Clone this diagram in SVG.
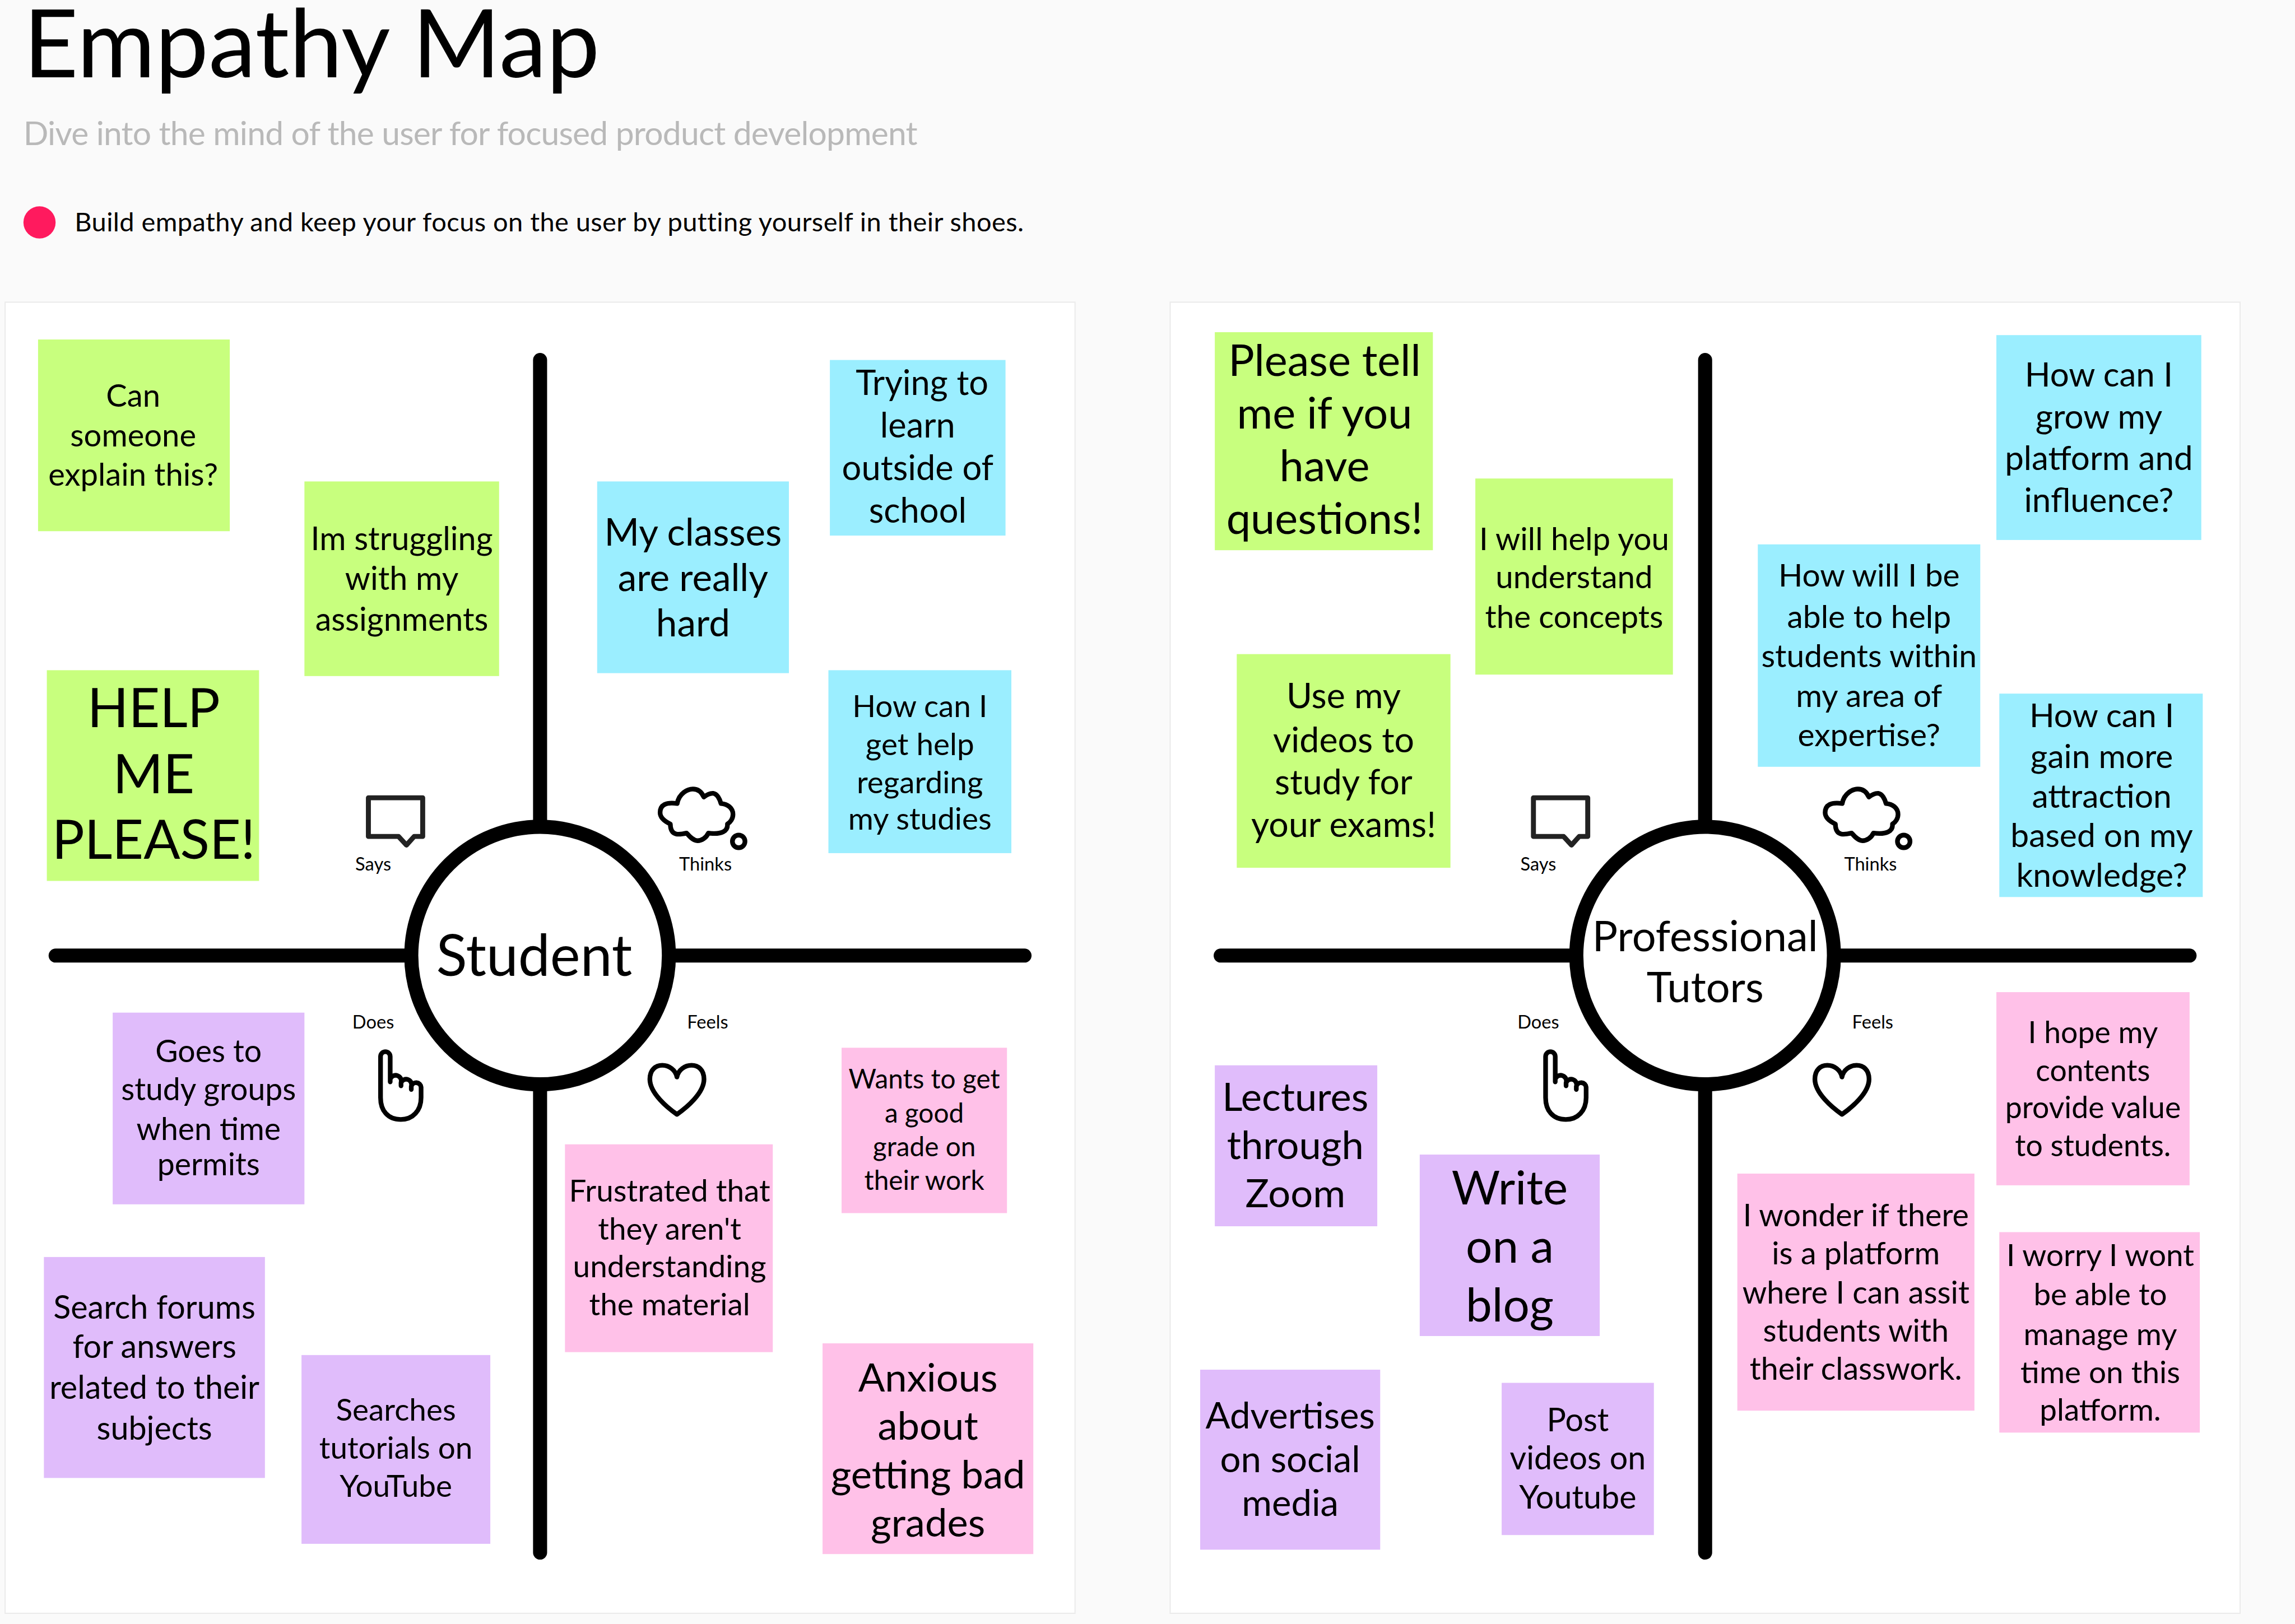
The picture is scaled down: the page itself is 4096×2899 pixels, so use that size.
<svg xmlns="http://www.w3.org/2000/svg" xmlns:xlink="http://www.w3.org/1999/xlink" width="4096" height="2899" viewBox="0 0 4096 2899">
<style>
text{font-family:"Lato","Noto Sans",sans-serif;fill:#000;text-anchor:middle}
.h{text-anchor:start}
.g{fill:#c8ff7e}.b{fill:#9beeff}.v{fill:#e0bcfb}.p{fill:#ffc1e8}
.panel{fill:#fff;stroke:#ebebeb;stroke-width:.8}
.ax{stroke:#000;stroke-width:9.6;stroke-linecap:round;fill:none}
.ring{fill:#fff;stroke:#000;stroke-width:9.6}
.ic{fill:none;stroke:#000;stroke-width:3.2;stroke-linejoin:round;stroke-linecap:round}
.lb{font-size:12.5px}
</style>
<defs>
<g id="icons">
<path class="ic" style="stroke:#222;stroke-width:3.4" d="M251.700 545.200H288.800V571.600H283L277.700 577.500L272.300 571.600H251.700Z"/>
<path class="ic" d="M462.700 549C464 542 470 539.200 473.400 539.200C477 539.200 479.500 541.500 480.900 544.700C483 543 485 542 487.300 542.100C490 542.500 491.800 546 492.600 549.100C497 549.500 500.800 552 500.800 556.500C500.800 559.500 499 562 497 563.100C497.500 568 493 570.500 484 569.300C482.500 572.500 479.500 574.500 476.600 574.500C473.500 574.500 471 571.500 469.100 569.300C464 570.500 458 571.500 458 563.100C453.500 561 451 558.500 451 555.300C451 550 455 548 462.700 549.100Z"/>
<circle class="ic" cx="504.700" cy="575" r="4.300"/>
<path class="ic" d="M266.600 739.300V722A3.300 3.300 0 0 0 260 722V750C260 759 265 765 273.800 765C282 765 287.700 759 287.700 750V743A3.400 3.400 0 0 0 281 742.500V744.500M281 742.500A3.500 3.500 0 0 0 274 740V742M274 740A3.700 3.700 0 0 0 266.600 737.500"/>
<path class="ic" d="M462.500 761.500C456 757 444 747 444 737.500C444 731 448 728 452.500 728C457 728 461.500 731 462.500 736C463.500 731 468 728 472.500 728C477 728 481 731 481 737.500C481 747 469 757 462.500 761.500Z"/>
<g><text class="lb" x="255" y="595">Says</text><text class="lb" x="482" y="595">Thinks</text><text class="lb" x="255" y="703">Does</text><text class="lb" x="483.500" y="703">Feels</text></g>
</g>
</defs>
<rect width="4096" height="2899" fill="#fafafa"/>
<g transform="scale(2.6122)">
<g id="header">
<text class="h" x="16" y="53" font-size="65">Empathy Map</text>
<text class="h" x="16" y="99" font-size="22.500" letter-spacing="-.3" style="fill:#b9b9b9">Dive into the mind of the user for focused product development</text>
<circle cx="27" cy="152" r="11" fill="#ff1a5e"/>
<text class="h" x="51" y="158" font-size="18" letter-spacing=".16">Build empathy and keep your focus on the user by putting yourself in their shoes.</text>
</g>
<rect class="panel" x="3.500" y="206.500" width="731" height="896"/>
<rect class="panel" x="799.500" y="206.500" width="731" height="896"/>
<g id="connectors">
<path class="ax" d="M369 246V1061M38 653H700"/>
<path class="ax" d="M1165 246V1061M834 653H1496"/>
</g>
<g id="student"><circle class="ring" cx="369" cy="653" r="88"/><text x="365" y="667" font-size="39">Student</text></g>
<g id="tutors"><circle class="ring" cx="1165" cy="653" r="88"/><text x="1165" y="650" font-size="29">Professional</text><text x="1165" y="685" font-size="29">Tutors</text></g>
<use href="#icons"/>
<use href="#icons" x="796"/>
<g id="s1"><rect class="g" x="26" y="232" width="131" height="131"/><text x="91" font-size="21.500"><tspan x="91" y="278">Can</tspan><tspan x="91" y="305">someone</tspan><tspan x="91" y="332">explain this?</tspan></text></g>
<g id="s2"><rect class="g" x="208" y="329" width="133" height="133"/><text font-size="22"><tspan x="274.500" y="376">Im struggling</tspan><tspan x="274.500" y="403">with my</tspan><tspan x="274.500" y="431">assignments</tspan></text></g>
<g id="s3"><rect class="g" x="32" y="458" width="145" height="144"/><text font-size="37"><tspan x="105" y="497">HELP</tspan><tspan x="105" y="542">ME</tspan><tspan x="105" y="587">PLEASE!</tspan></text></g>
<g id="s4"><rect class="b" x="408" y="329" width="131" height="131"/><text font-size="25.800"><tspan x="473.500" y="373">My classes</tspan><tspan x="473.500" y="404">are really</tspan><tspan x="473.500" y="435">hard</tspan></text></g>
<g id="s5"><rect class="b" x="567" y="246" width="120" height="120"/><text font-size="23.500"><tspan x="630" y="270">Trying to</tspan><tspan x="627" y="299">learn</tspan><tspan x="627" y="328">outside of</tspan><tspan x="627" y="357">school</tspan></text></g>
<g id="s6"><rect class="b" x="566" y="458" width="125" height="125"/><text font-size="21"><tspan x="628.500" y="490">How can I</tspan><tspan x="628.500" y="516">get help</tspan><tspan x="628.500" y="542">regarding</tspan><tspan x="628.500" y="567">my studies</tspan></text></g>
<g id="s7"><rect class="v" x="77" y="692" width="131" height="131"/><text font-size="21.200"><tspan x="142.500" y="726">Goes to</tspan><tspan x="142.500" y="752">study groups</tspan><tspan x="142.500" y="779">when time</tspan><tspan x="142.500" y="803">permits</tspan></text></g>
<g id="s8"><rect class="p" x="575" y="716" width="113" height="113"/><text font-size="18.300"><tspan x="631.500" y="744">Wants to get</tspan><tspan x="631.500" y="767">a good</tspan><tspan x="631.500" y="790">grade on</tspan><tspan x="631.500" y="813">their work</tspan></text></g>
<g id="s9"><rect class="p" x="386" y="782" width="142" height="142"/><text font-size="21"><tspan x="457.500" y="821">Frustrated that</tspan><tspan x="457.500" y="847">they aren't</tspan><tspan x="457.500" y="873">understanding</tspan><tspan x="457.500" y="899">the material</tspan></text></g>
<g id="s10"><rect class="v" x="30" y="859" width="151" height="151"/><text font-size="22"><tspan x="105.500" y="901">Search forums</tspan><tspan x="105.500" y="928">for answers</tspan><tspan x="105.500" y="956">related to their</tspan><tspan x="105.500" y="984">subjects</tspan></text></g>
<g id="s11"><rect class="v" x="206" y="926" width="129" height="129"/><text font-size="21"><tspan x="270.500" y="971">Searches</tspan><tspan x="270.500" y="997">tutorials on</tspan><tspan x="270.500" y="1023">YouTube</tspan></text></g>
<g id="s12"><rect class="p" x="562" y="918" width="144" height="144"/><text font-size="27"><tspan x="634" y="951">Anxious</tspan><tspan x="634" y="984">about</tspan><tspan x="634" y="1017">getting bad</tspan><tspan x="634" y="1050">grades</tspan></text></g>
<g id="t1"><rect class="g" x="830" y="227" width="149" height="149"/><text font-size="29.700"><tspan x="905" y="257">Please tell</tspan><tspan x="905" y="293">me if you</tspan><tspan x="905" y="329">have</tspan><tspan x="905" y="365">questions!</tspan></text></g>
<g id="t2"><rect class="b" x="1364" y="229" width="140" height="140"/><text font-size="23"><tspan x="1434" y="264">How can I</tspan><tspan x="1434" y="293">grow my</tspan><tspan x="1434" y="321">platform and</tspan><tspan x="1434" y="350">influence?</tspan></text></g>
<g id="t3"><rect class="g" x="1008" y="327" width="135" height="134"/><text font-size="21.600"><tspan x="1075.500" y="376">I will help you</tspan><tspan x="1075.500" y="402">understand</tspan><tspan x="1075.500" y="429">the concepts</tspan></text></g>
<g id="t4"><rect class="b" x="1201" y="372" width="152" height="152"/><text font-size="21.800"><tspan x="1277" y="401">How will I be</tspan><tspan x="1277" y="429">able to help</tspan><tspan x="1277" y="456">students within</tspan><tspan x="1277" y="483">my area of</tspan><tspan x="1277" y="510">expertise?</tspan></text></g>
<g id="t5"><rect class="g" x="845" y="447" width="146" height="146"/><text font-size="24"><tspan x="918" y="484">Use my</tspan><tspan x="918" y="514">videos to</tspan><tspan x="918" y="543">study for</tspan><tspan x="918" y="572">your exams!</tspan></text></g>
<g id="t6"><rect class="b" x="1366" y="474" width="139" height="139"/><text font-size="22.500"><tspan x="1436" y="497">How can I</tspan><tspan x="1436" y="525">gain more</tspan><tspan x="1436" y="552">attraction</tspan><tspan x="1436" y="579">based on my</tspan><tspan x="1436" y="606">knowledge?</tspan></text></g>
<g id="t7"><rect class="p" x="1364" y="678" width="132" height="132"/><text font-size="20.500"><tspan x="1430" y="713">I hope my</tspan><tspan x="1430" y="739">contents</tspan><tspan x="1430" y="764">provide value</tspan><tspan x="1430" y="790">to students.</tspan></text></g>
<g id="t8"><rect class="v" x="830" y="728" width="111" height="110"/><text font-size="27"><tspan x="885" y="759">Lectures</tspan><tspan x="885" y="792">through</tspan><tspan x="885" y="825">Zoom</tspan></text></g>
<g id="t9"><rect class="v" x="970" y="789" width="123" height="124"/><text font-size="32"><tspan x="1031.500" y="823">Write</tspan><tspan x="1031.500" y="863">on a</tspan><tspan x="1031.500" y="903">blog</tspan></text></g>
<g id="t10"><rect class="p" x="1187" y="802" width="162" height="162"/><text font-size="21.300"><tspan x="1268" y="838">I wonder if there</tspan><tspan x="1268" y="864">is a platform</tspan><tspan x="1268" y="891">where I can assit</tspan><tspan x="1268" y="917">students with</tspan><tspan x="1268" y="943">their classwork.</tspan></text></g>
<g id="t11"><rect class="p" x="1366" y="842" width="137" height="137"/><text font-size="21"><tspan x="1435" y="865">I worry I wont</tspan><tspan x="1435" y="892">be able to</tspan><tspan x="1435" y="919">manage my</tspan><tspan x="1435" y="945">time on this</tspan><tspan x="1435" y="971">platform.</tspan></text></g>
<g id="t12"><rect class="v" x="820" y="936" width="123" height="123"/><text font-size="25"><tspan x="881.500" y="976">Advertises</tspan><tspan x="881.500" y="1006">on social</tspan><tspan x="881.500" y="1036">media</tspan></text></g>
<g id="t13"><rect class="v" x="1026" y="945" width="104" height="104"/><text font-size="22"><tspan x="1078" y="978">Post</tspan><tspan x="1078" y="1004">videos on</tspan><tspan x="1078" y="1031">Youtube</tspan></text></g>
</g>
</svg>
